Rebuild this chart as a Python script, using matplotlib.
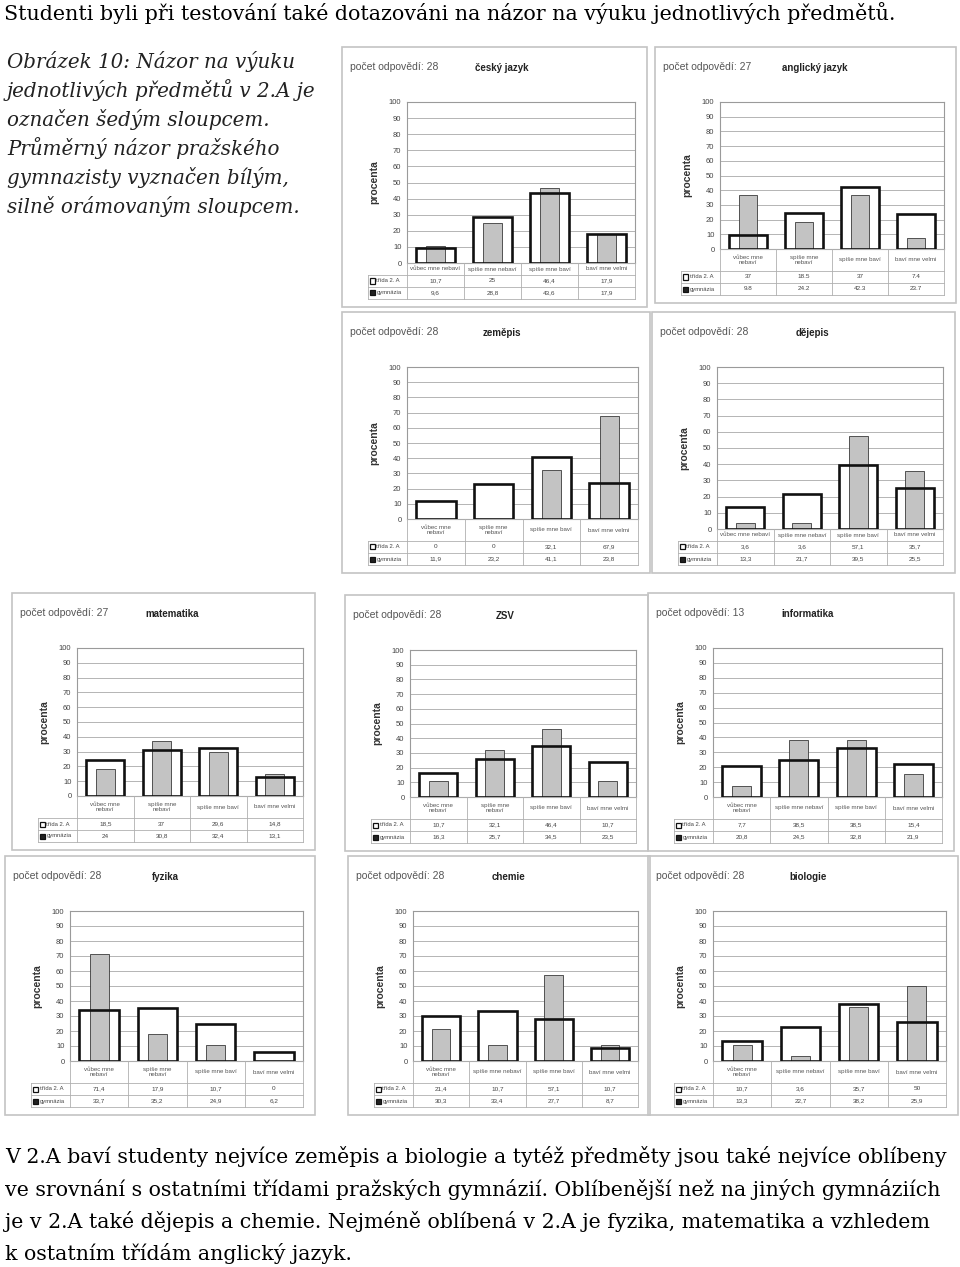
import numpy as np
import matplotlib
matplotlib.use("Agg")
import matplotlib.pyplot as plt
from matplotlib.patches import Rectangle
from matplotlib.lines import Line2D

# ---- data (procenta) ----
subjects = ["český jazyk", "anglický jazyk", "zeměpis", "dějepis", "matematika",
            "ZSV", "informatika", "fyzika", "chemie", "biologie"]
answers = [28, 27, 28, 28, 27, 28, 13, 28, 28, 28]

trida_2a = [
    [10.7, 25, 46.4, 17.9],
    [37, 18.5, 37, 7.4],
    [0, 0, 32.1, 67.9],
    [3.6, 3.6, 57.1, 35.7],
    [18.5, 37, 29.6, 14.8],
    [10.7, 32.1, 46.4, 10.7],
    [7.7, 38.5, 38.5, 15.4],
    [71.4, 17.9, 10.7, 0],
    [21.4, 10.7, 57.1, 10.7],
    [10.7, 3.6, 35.7, 50],
]
gymnazia = [
    [9.6, 28.8, 43.6, 17.9],
    [9.8, 24.2, 42.3, 23.7],
    [11.9, 23.2, 41.1, 23.8],
    [13.3, 21.7, 39.5, 25.5],
    [24, 30.8, 32.4, 13.1],
    [16.3, 25.7, 34.5, 23.5],
    [20.8, 24.5, 32.8, 21.9],
    [33.7, 35.2, 24.9, 6.2],
    [30.3, 33.4, 27.7, 8.7],
    [13.3, 22.7, 38.2, 25.9],
]
cats_one = ["vůbec mne nebaví", "spíše mne nebaví", "spíše mne baví", "baví mne velmi"]
cats_two = ["vůbec mne\nnebaví", "spíše mne\nnebaví", "spíše mne baví", "baví mne velmi"]
# which category labels wrap onto two lines in each panel
wrapped = [(), (0, 1), (0, 1), (), (0, 1), (0, 1), (0,), (0, 1), (0,), (0,)]
dec_sep = [",", ".", ",", ",", ",", ",", ",", ",", ",", ","]
row_labels = ["třída 2. A", "gymnázia"]

# panel frames in page pixels: left, top, right, bottom
panels = [
    (342, 47, 647, 307), (655, 47, 956, 303),
    (342, 312, 650, 573), (652, 312, 955, 573),
    (12, 593, 315, 850), (345, 595, 648, 851), (648, 593, 954, 851),
    (5, 856, 315, 1115), (348, 856, 650, 1115), (648, 856, 958, 1115),
]

intro = "Studenti byli při testování také dotazováni na názor na výuku jednotlivých předmětů."
caption = ["Obrázek 10: Názor na výuku",
           "jednotlivých předmětů v 2.A je",
           "označen šedým sloupcem.",
           "Průměrný názor pražského",
           "gymnazisty vyznačen bílým,",
           "silně orámovaným sloupcem."]
summary = ["V 2.A baví studenty nejvíce zeměpis a biologie a tytéž předměty jsou také nejvíce oblíbeny",
           "ve srovnání s ostatními třídami pražských gymnázií. Oblíbenější než na jiných gymnáziích",
           "je v 2.A také dějepis a chemie. Nejméně oblíbená v 2.A je fyzika, matematika a vzhledem",
           "k ostatním třídám anglický jazyk."]

W, H = 960, 1267
fig = plt.figure(figsize=(W / 100, H / 100), dpi=100)
fig.patch.set_facecolor("white")

def fx(x):
    return x / W

def fy(y):
    return 1 - y / H

def line(x0, y0, x1, y1, color="#b0b0b0", lw=0.6):
    fig.add_artist(Line2D([fx(x0), fx(x1)], [fy(y0), fy(y1)],
                          transform=fig.transFigure, color=color, lw=lw))

SERIF = "DejaVu Serif"
SANS = "Liberation Sans"

# ---- page text ----
fig.text(fx(4), fy(20), intro, family=SERIF, fontsize=14.85, va="baseline")
for i, s in enumerate(caption):
    fig.text(fx(7), fy(68 + 29 * i), s, family=SERIF, style="italic",
             fontsize=14.3, va="baseline", color="#222222")
for i, s in enumerate(summary):
    fig.text(fx(5), fy(1163 + 32.5 * i), s, family=SERIF, fontsize=14.8,
             va="baseline")

# ---- the ten small charts ----
for k, (x0, y0, x1, y1) in enumerate(panels):
    fig.add_artist(Rectangle((fx(x0), fy(y1)), fx(x1 - x0), (y1 - y0) / H,
                             transform=fig.transFigure, fill=False,
                             edgecolor="#c4c4c4", lw=1.2))
    fig.text(fx(x0 + 8), fy(y0 + 20), f"počet odpovědí: {answers[k]}",
             family=SANS, fontsize=7.5, color="#555555", va="center")
    fig.text(fx(x0 + 160), fy(y0 + 21), subjects[k], family=SANS,
             fontsize=7, weight="bold", color="#222222", va="center", ha="center")

    cat_h = 22 if wrapped[k] else 12
    tab_bot = y1 - 8
    row_h = 12
    p_left, p_right = x0 + 65, x1 - 12
    p_top = y0 + 55
    p_bot = tab_bot - 2 * row_h - cat_h

    ax = fig.add_axes([fx(p_left), fy(p_bot), fx(p_right - p_left), (p_bot - p_top) / H])
    xs = np.arange(4)
    ax.bar(xs, gymnazia[k], width=0.68, color="white", zorder=1)
    ax.bar(xs, trida_2a[k], width=0.33, color="#c3c3c3", edgecolor="#3a3a3a",
           lw=0.6, zorder=2)
    ax.bar(xs, gymnazia[k], width=0.68, fill=False, edgecolor="#111111",
           lw=1.9, zorder=3)
    ax.set_xlim(-0.5, 3.5)
    ax.set_ylim(0, 100)
    ax.set_yticks(range(0, 101, 10))
    ax.set_xticks([])
    ax.tick_params(axis="y", length=0, labelsize=5.5, labelcolor="#444444", pad=4)
    for lab in ax.get_yticklabels():
        lab.set_family(SANS)
    ax.grid(axis="y", color="#a8a8a8", lw=0.6)
    ax.set_axisbelow(True)
    for sp in ax.spines.values():
        sp.set_color("#9a9a9a")
        sp.set_linewidth(0.8)
    ax.set_ylabel("procenta", family=SANS, fontsize=7.5, weight="bold",
                  color="#333333", labelpad=7)

    # data table under the plot
    cw = (p_right - p_left) / 4
    t_left = x0 + 26
    r1 = p_bot + cat_h
    line(p_left, p_bot, p_left, tab_bot)
    for j in range(1, 5):
        line(p_left + j * cw, p_bot, p_left + j * cw, tab_bot)
    line(t_left, r1, t_left, tab_bot)
    for yy in (r1, r1 + row_h, tab_bot):
        line(t_left, yy, p_right, yy)
    line(p_left, p_bot, p_right, p_bot)
    for j in range(4):
        cx = p_left + (j + 0.5) * cw
        lab = cats_two[j] if j in wrapped[k] else cats_one[j]
        fig.text(fx(cx), fy(p_bot + cat_h / 2), lab, family=SANS, fontsize=4.4,
                 color="#555555", ha="center", va="center", linespacing=1.2)
        for r, vals in enumerate((trida_2a[k], gymnazia[k])):
            v = vals[j]
            s = (f"{v:g}").replace(".", dec_sep[k])
            fig.text(fx(cx), fy(r1 + row_h * (r + 0.5)), s, family=SANS,
                     fontsize=4.6, color="#444444", ha="center", va="center")
    for r, lab in enumerate(row_labels):
        yc = r1 + row_h * (r + 0.5)
        face = "white" if r == 0 else "#222222"
        fig.add_artist(Rectangle((fx(t_left + 2), fy(yc + 2.5)), fx(5), 5 / H,
                                 transform=fig.transFigure, facecolor=face,
                                 edgecolor="#111111", lw=0.9))
        fig.text(fx(t_left + 8.5), fy(yc), lab, family=SANS, fontsize=4.2,
                 color="#444444", va="center")

fig.savefig("out.png", dpi=100)
